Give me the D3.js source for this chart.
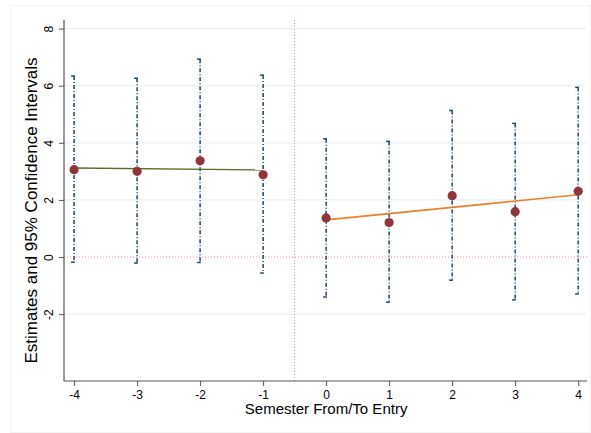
<!DOCTYPE html>
<html>
<head>
<meta charset="utf-8">
<script src="https://cdn.jsdelivr.net/npm/d3@7"></script>
<style>
  html, body { margin: 0; padding: 0; background: #ffffff; }
  svg { display: block; font-family: "Liberation Sans", Arial, Helvetica, sans-serif; }
</style>
</head>
<body>
<svg id="chart" width="591" height="433"></svg>
<script>
// ---- data ----
const semesters = [-4, -3, -2, -1, 0, 1, 2, 3, 4];
const estimates = [3.06, 3.00, 3.37, 2.88, 1.37, 1.21, 2.15, 1.59, 2.30];
const ciUpper   = [6.34, 6.26, 6.93, 6.37, 4.14, 4.05, 5.13, 4.68, 5.94];
const ciLower   = [-0.18, -0.21, -0.19, -0.56, -1.40, -1.58, -0.81, -1.50, -1.29];
const preFit    = [{x: -4, y: 3.12}, {x: -1, y: 3.05}];
const postFit   = [{x: 0, y: 1.30}, {x: 4, y: 2.18}];
const xTicks = [-4, -3, -2, -1, 0, 1, 2, 3, 4];
const yTicks = [-2, 0, 2, 4, 6, 8];
const gridTicks = [-2, 2, 4, 6, 8];
const cutoff = -0.5;

(function () {
const svg = d3.select("#chart");
const W = 591, H = 433;
const mLeft = 64, mRight = 587, mTop = 20, mBottom = 381;

// faint outer frame
svg.append("rect").attr("x", 10.5).attr("y", 5.5).attr("width", W - 11).attr("height", H - 6)
  .attr("fill", "none").attr("stroke", "#f3f5f5").attr("stroke-width", 1);

const x = d3.scaleLinear().domain([-4.16, 4.14]).range([mLeft, mRight]);
const y = d3.scaleLinear().domain([-4.34, 8.3]).range([mBottom, mTop]);

// gridlines
svg.append("g").selectAll("line").data(gridTicks).join("line")
  .attr("x1", mLeft).attr("x2", mRight)
  .attr("y1", d => y(d)).attr("y2", d => y(d))
  .attr("stroke", "#eaf2f3").attr("stroke-width", 1.2);

// reference lines
svg.append("line").attr("x1", mLeft).attr("x2", mRight)
  .attr("y1", y(0)).attr("y2", y(0))
  .attr("stroke", "#e8889a").attr("stroke-width", 1).attr("stroke-dasharray", "1,2");
svg.append("line").attr("x1", x(cutoff)).attr("x2", x(cutoff))
  .attr("y1", mTop).attr("y2", mBottom)
  .attr("stroke", "#e8889a").attr("stroke-width", 1).attr("stroke-dasharray", "1,2");

// CI bars
const ci = svg.append("g");
semesters.forEach((s, i) => {
  const cx = x(s);
  ci.append("line").attr("x1", cx).attr("x2", cx)
    .attr("y1", y(ciUpper[i])).attr("y2", y(ciLower[i]))
    .attr("stroke", "#1a476f").attr("stroke-width", 1.5)
    .attr("stroke-dasharray", "4,2,1,2");
  [ciUpper[i], ciLower[i]].forEach(v => {
    ci.append("line").attr("x1", cx - 3).attr("x2", cx + 0.75)
      .attr("y1", y(v)).attr("y2", y(v))
      .attr("stroke", "#1a476f").attr("stroke-width", 1.5);
  });
});

// fit lines
const line = d3.line().x(d => x(d.x)).y(d => y(d.y));
svg.append("path").datum(preFit).attr("d", line)
  .attr("fill", "none").attr("stroke", "#4f7227").attr("stroke-width", 1.4);
svg.append("path").datum(postFit).attr("d", line)
  .attr("fill", "none").attr("stroke", "#e8812a").attr("stroke-width", 1.6);

// points
svg.append("g").selectAll("circle").data(semesters).join("circle")
  .attr("cx", d => x(d)).attr("cy", (d, i) => y(estimates[i]))
  .attr("r", 4.6).attr("fill", "#90353b");

// axes
const fmt = d => String(d);
const xAxis = svg.append("g").attr("transform", `translate(0,${mBottom})`)
  .call(d3.axisBottom(x).tickValues(xTicks).tickFormat(fmt).tickSize(5).tickPadding(4).tickSizeOuter(0));
const yAxis = svg.append("g").attr("transform", `translate(${mLeft},0)`)
  .call(d3.axisLeft(y).tickValues(yTicks).tickFormat(fmt).tickSize(5).tickPadding(3).tickSizeOuter(0));
[xAxis, yAxis].forEach(g => {
  g.select(".domain").attr("stroke", "#555").attr("stroke-width", 1.2);
  g.selectAll(".tick line").attr("stroke", "#555").attr("stroke-width", 1);
  g.selectAll("text").attr("fill", "#000").style("font-size", "12px")
    .style("font-family", "'Liberation Sans', Arial, sans-serif");
});
xAxis.select(".domain").attr("d", `M${mLeft},0H${mRight}`);
yAxis.select(".domain").attr("d", `M0,${mTop}V${mBottom}`);

// rotate y tick labels
yAxis.selectAll(".tick text")
  .attr("x", null).attr("dy", null)
  .attr("transform", "translate(-14.5,0) rotate(-90)")
  .attr("text-anchor", "middle").attr("dominant-baseline", "middle");

// axis titles
svg.append("text").attr("x", x(0)).attr("y", 414)
  .attr("text-anchor", "middle").style("font-size", "15px").text("Semester From/To Entry");
svg.append("text").attr("transform", `translate(33,${(mTop + mBottom) / 2 + 10}) rotate(-90)`)
  .attr("text-anchor", "middle").attr("dominant-baseline", "middle")
  .style("font-size", "17px").text("Estimates and 95% Confidence Intervals");
})();
</script>
</body>
</html>
